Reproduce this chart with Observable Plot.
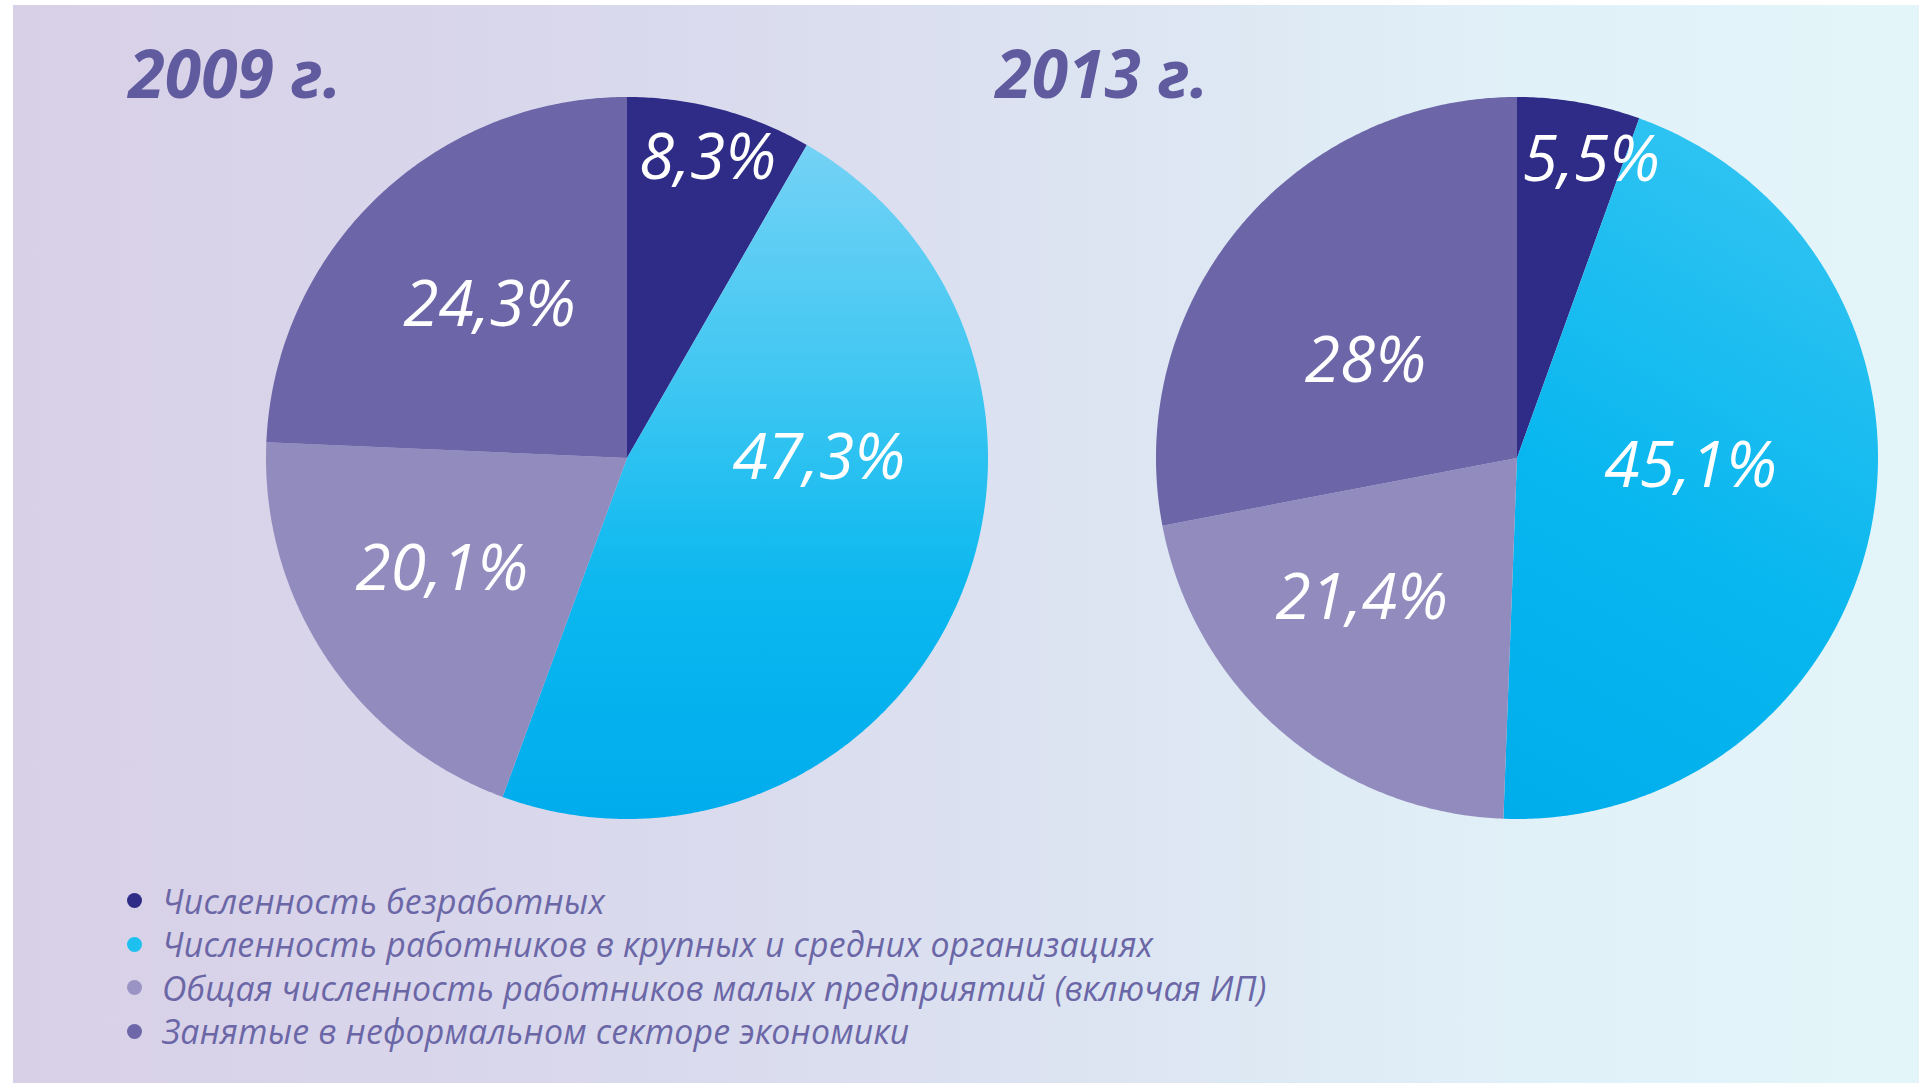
<!DOCTYPE html>
<html>
<head>
<meta charset="utf-8">
<script src="https://cdn.jsdelivr.net/npm/d3@7"></script>
<script src="https://cdn.jsdelivr.net/npm/@observablehq/plot@0.6"></script>
<style>
  html, body { margin: 0; padding: 0; background: #fff; }
  #page { position: relative; width: 1919px; height: 1085px; overflow: hidden; background: #fff; font-family: "Open Sans", "Noto Sans", sans-serif; }
  #bg { position: absolute; left: 13px; top: 5px; right: 0; bottom: 2px;
        background: linear-gradient(to right, #D8D0E7 0%, #D9D8EC 30%, #DCE3F1 55%, #E1F1F8 80%, #E4F5FA 100%); }
  #chart { position: absolute; left: 0; top: 0; }
  #legend { position: absolute; left: 127px; top: 879px; }
  .lg-row { display: flex; align-items: center; height: 43.5px; }
  .lg-dot { width: 15px; height: 15px; border-radius: 50%; margin-right: 20px; flex: none; }
  .lg-text { font-style: italic; font-size: 33.8px; color: #6B67A7; white-space: nowrap; letter-spacing: 0.2px; }
</style>
</head>
<body>
<div id="page">
  <div id="bg"></div>
  <div id="chart"></div>
  <div id="legend"></div>
</div>
<script>
// ---- data ----
const years = ["2009 г.", "2013 г."];
const categories = [
  "Численность безработных",
  "Численность работников в крупных и средних организациях",
  "Общая численность работников малых предприятий (включая ИП)",
  "Занятые в неформальном секторе экономики"
];
const values2009 = [8.3, 47.3, 20.1, 24.3];
const values2013 = [5.5, 45.1, 21.4, 28];

// ---- styles / layout ----
const sliceColors = ["#2E2C86", "cyan-gradient", "#918BBE", "#6C66A8"];
const legendColors = ["#2E2C86", "#1EC0F0", "#9A94C4", "#6D67A9"];
// label placement relative to each slice: angle shift (deg) from the slice mid-angle, radius as fraction of R
const labelLayout2009 = [{shift: 0, r: 0.86}, {shift: -25, r: 0.53}, {shift: 2.7, r: 0.60}, {shift: 1.6, r: 0.57}];
const labelLayout2013 = [{shift: 4, r: 0.85}, {shift: -8.4, r: 0.48}, {shift: 7.4, r: 0.58}, {shift: -7, r: 0.50}];
const titleDx = [-138, -161];

const valuesByYear = {[years[0]]: values2009, [years[1]]: values2013};
const layoutByYear = {[years[0]]: labelLayout2009, [years[1]]: labelLayout2013};
const gradientId = {[years[0]]: "grad2009", [years[1]]: "grad2013"};

// build arc polygons (unit circle, angle clockwise from 12 o'clock)
const arcPoints = [];
const labelData = [];
for (const year of years) {
  const vals = valuesByYear[year];
  const total = d3.sum(vals);
  let acc = 0;
  vals.forEach((v, i) => {
    const a0 = acc / total * 360;
    acc += v;
    const a1 = acc / total * 360;
    const n = Math.max(2, Math.ceil((a1 - a0) / 0.5));
    for (let k = 0; k <= n; ++k) {
      const t = (a0 + (a1 - a0) * k / n) * Math.PI / 180;
      arcPoints.push({year, key: year + "|" + i, cat: i, x: Math.sin(t), y: Math.cos(t), cx: 0, cy: 0});
    }
    const L = layoutByYear[year][i];
    const ang = ((a0 + a1) / 2 + L.shift) * Math.PI / 180;
    labelData.push({year, text: String(v).replace(".", ",") + "%", x: L.r * Math.sin(ang), y: L.r * Math.cos(ang)});
  });
}

const fillFor = d => sliceColors[d.cat] === "cyan-gradient" ? `url(#${gradientId[d.year]})` : sliceColors[d.cat];
const font = "Open Sans, Noto Sans, sans-serif";

const chart = Plot.plot({
  width: 1919,
  height: 860,
  marginTop: 97,
  marginBottom: 41,
  marginLeft: 266,
  marginRight: 41,
  style: {background: "transparent", overflow: "visible"},
  fx: {domain: years, paddingInner: 0.1888, paddingOuter: 0, axis: null},
  x: {domain: [-1, 1], axis: null},
  y: {domain: [-1, 1], axis: null},
  color: {type: "identity"},
  marks: [
    Plot.area(arcPoints, {fx: "year", x1: "cx", y1: "cy", x2: "x", y2: "y", z: "key", fill: fillFor}),
    Plot.text(labelData, {fx: "year", x: "x", y: "y", text: "text", fill: "white",
      fontSize: 64, fontStyle: "italic", fontFamily: font}),
    ...years.map((yr, i) => Plot.text([yr], {fx: d => d, text: d => d, frameAnchor: "top-left", lineAnchor: "bottom",
      dx: titleDx[i], dy: 0, fill: "#605B9E", fontSize: 66, fontWeight: "bold", fontStyle: "italic", fontFamily: font}))
  ]
});

// gradients for the large slice
const defs = d3.select(chart).insert("defs", ":first-child");
const g1 = defs.append("linearGradient").attr("id", "grad2009").attr("x1", 0).attr("y1", 0).attr("x2", 0).attr("y2", 1);
[[0, "#74D2F5"], [0.35, "#3FC7F2"], [0.65, "#0CB8EF"], [1, "#00ACEC"]].forEach(([o, c]) => g1.append("stop").attr("offset", o).attr("stop-color", c));
const g2 = defs.append("linearGradient").attr("id", "grad2013").attr("x1", 0.3).attr("y1", 0).attr("x2", 0).attr("y2", 1);
[[0, "#2CC2F1"], [0.5, "#08B7EF"], [1, "#00ADEC"]].forEach(([o, c]) => g2.append("stop").attr("offset", o).attr("stop-color", c));

document.getElementById("chart").appendChild(chart);

// legend
const legend = d3.select("#legend");
categories.forEach((c, i) => {
  const row = legend.append("div").attr("class", "lg-row");
  row.append("div").attr("class", "lg-dot").style("background", legendColors[i]);
  row.append("div").attr("class", "lg-text").text(c);
});
</script>
</body>
</html>
